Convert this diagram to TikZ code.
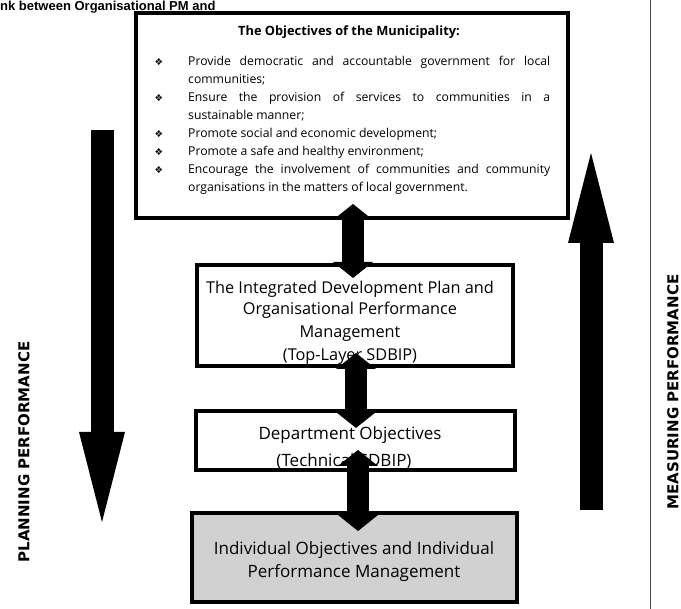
\documentclass[tikz,border=0pt]{standalone}
\usepackage{fontspec}
\setmainfont{Open Sans}
\newfontfamily\labelfont{DejaVu Sans}
\newfontfamily\headfont{Liberation Sans}
\newfontfamily\symfont{DejaVu Sans}
\usetikzlibrary{arrows.meta}
\tikzset{
  box/.style={draw, line width=4.5pt, outer sep=0pt, inner sep=0pt},
  dbl/.style={line width=22pt,
    {Triangle[width=40pt,length=16pt,line width=0pt]}-{Triangle[width=40pt,length=16pt,line width=0pt]}},
  big/.style={line width=23pt, -{Triangle[width=46pt,length=90pt,line width=0pt]}},
  ln/.style={anchor=base west, inner sep=0pt, font=\fontsize{12.2}{14}\selectfont},
  title/.style={anchor=base, inner sep=0pt, font=\bfseries\fontsize{12.8}{14}\selectfont},
  boxtxt/.style={anchor=base, inner sep=0pt, font=\fontsize{16.3}{18}\selectfont},
  boxtxtb/.style={anchor=base, inner sep=0pt, font=\fontsize{17}{19}\selectfont},
  bul/.style={inner sep=0pt, font=\symfont\fontsize{9.5}{10}\selectfont},
  side/.style={rotate=90, inner sep=0pt, font=\labelfont\bfseries\fontsize{15}{17}\selectfont},
}
\begin{document}
\begin{tikzpicture}[x=1pt,y=-1pt]
\useasboundingbox (0,0) rectangle (681,609);

% header fragment
\node[anchor=base west, inner sep=0pt, font=\headfont\bfseries\fontsize{13}{15}\selectfont] (hdr) at (0,10.5) {nk between Organisational PM and};

% boxes
\node[box, minimum width=432pt, minimum height=205pt] (top) at (352,115.5) {};
\node[box, minimum width=316pt, minimum height=101pt] (idp) at (355,315.5) {};
\node[box, minimum width=319pt, minimum height=59pt] (dept) at (355.5,440.5) {};
\node[box, fill=black!18, minimum width=325pt, minimum height=89pt] (ind) at (354.5,557.5) {};

% top box text
\node[title] (ttl) at (349,36) {The Objectives of the Municipality:};
\node[ln] (l1) at (188,66) {\makebox[362pt][s]{Provide democratic and accountable government for local}};
\node[ln] (l2) at (188,84) {communities;};
\node[ln] (l3) at (188,102) {\makebox[362pt][s]{Ensure the provision of services to communities in a}};
\node[ln] (l4) at (188,120) {sustainable manner;};
\node[ln] (l5) at (188,138) {Promote social and economic development;};
\node[ln] (l6) at (188,156) {Promote a safe and healthy environment;};
\node[ln] (l7) at (188,174) {\makebox[362pt][s]{Encourage the involvement of communities and community}};
\node[ln] (l8) at (188,192) {organisations in the matters of local government.};
\node[bul] (b1) at (159,62) {❖};
\node[bul] (b3) at (159,98) {❖};
\node[bul] (b5) at (159,134) {❖};
\node[bul] (b6) at (159,152) {❖};
\node[bul] (b7) at (159,170) {❖};

% IDP text
\node[boxtxt] (i1) at (350,294) {The Integrated Development Plan and};
\node[boxtxt] (i2) at (350,315) {Organisational Performance};
\node[boxtxt] (i3) at (350,338) {Management};
\node[boxtxt] (i4) at (350,361) {(Top-Layer SDBIP)};

% Department text
\node[boxtxtb] (d1) at (350,440) {Department Objectives};
\node[boxtxtb] (d2) at (344,467) {(Technical SDBIP)};

% Individual text
\node[boxtxtb] (n1) at (354,555) {Individual Objectives and Individual};
\node[boxtxtb] (n2) at (354,578) {Performance Management};

% double arrows
\coordinate (ax1) at (353,0);
\coordinate (ax2) at (356,0);
\coordinate (ax3) at (358,0);
\draw[dbl] ([yshift=14pt]top.south -| ax1) -- ([yshift=-13pt]idp.north -| ax1);
\draw[dbl] ([yshift=13pt]idp.south -| ax2) -- ([yshift=-17pt]dept.north -| ax2);
\draw[dbl] ([yshift=20pt]dept.south -| ax3) -- ([yshift=-18pt]ind.north -| ax3);

% big side arrows
\coordinate (L1) at (102,130);
\coordinate (L2) at (102,522);
\coordinate (R1) at (591,510);
\coordinate (R2) at (591,153);
\draw[big] (L1) -- (L2);
\draw[big] (R1) -- (R2);

% separator line
\coordinate (V1) at (650,0);
\coordinate (V2) at (650,609);
\draw[black!70, line width=0.8pt] (V1) -- (V2);

% side labels
\node[side] (plan) at (24,452) {PLANNING PERFORMANCE};
\node[side] (meas) at (673,392) {MEASURING PERFORMANCE};
\end{tikzpicture}
\end{document}
